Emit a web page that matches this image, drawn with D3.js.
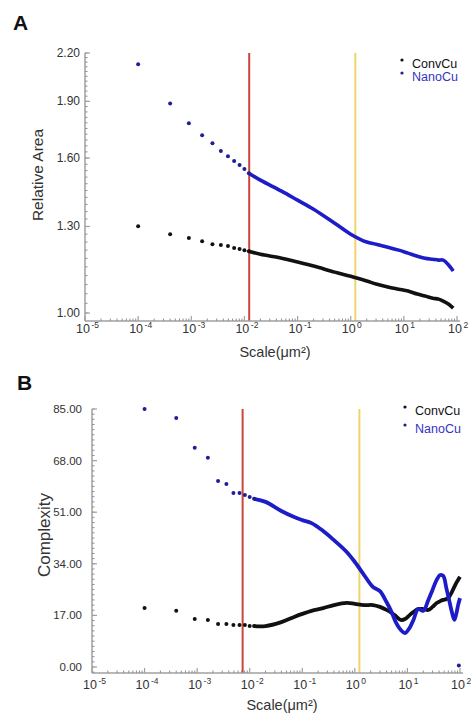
<!DOCTYPE html>
<html>
<head>
<meta charset="utf-8">
<script src="https://cdn.jsdelivr.net/npm/d3@7"></script>
<style>
  body { margin: 0; background: #fff; }
  text { font-family: Arial, "Liberation Sans", sans-serif; }
</style>
</head>
<body>
<svg id="chart" width="471" height="714"></svg>
<script>
// Panel A: Relative Area (log y)
const dotScalesA = [0.0001, 0.0004, 0.0009, 0.0016, 0.0025, 0.0036, 0.0049, 0.0064, 0.0081, 0.0100, 0.0121];
const convDotsA = [1.301, 1.270, 1.255, 1.243, 1.232, 1.229, 1.225, 1.218, 1.214, 1.210, 1.206];
const nanoDotsA = [2.126, 1.888, 1.778, 1.714, 1.673, 1.634, 1.609, 1.585, 1.566, 1.547, 1.528];
const curveScalesA = [0.0121, 0.02, 0.05, 0.1, 0.2, 0.5, 1, 2, 3, 5, 8, 12, 18, 25, 35, 45, 55, 70, 85];
const convCurveA = [1.206, 1.195, 1.181, 1.167, 1.153, 1.132, 1.118, 1.102, 1.092, 1.082, 1.075, 1.069, 1.059, 1.053, 1.046, 1.043, 1.037, 1.027, 1.015];
const nanoCurveA = [1.528, 1.496, 1.447, 1.408, 1.370, 1.313, 1.270, 1.240, 1.232, 1.221, 1.210, 1.199, 1.188, 1.181, 1.177, 1.174, 1.174, 1.156, 1.136];
const yTicksA = [1.00, 1.30, 1.60, 1.90, 2.20];
const markersA = [0.0123, 1.22];

// Panel B: Complexity (linear y)
const dotScalesB = [0.0001, 0.0004, 0.0009, 0.0016, 0.0025, 0.0036, 0.0049, 0.0064, 0.0081, 0.0100, 0.0121];
const convDotsB = [19.4, 18.5, 15.8, 15.5, 14.2, 14.2, 13.8, 13.8, 13.8, 13.5, 13.5];
const nanoDotsB = [85.0, 82.0, 72.2, 68.9, 61.3, 60.3, 57.3, 57.3, 56.7, 56.0, 55.4];
const curveScalesB = [0.0121, 0.02, 0.04, 0.07, 0.1, 0.15, 0.25, 0.4, 0.7, 1.0, 1.5, 2.2, 3, 4, 5, 6, 7.5, 9, 11, 13, 16, 20, 25, 30, 36, 42, 48, 55, 62, 70, 78, 85, 92, 100];
const convCurveB = [13.5, 13.5, 14.8, 16.5, 17.5, 18.5, 19.4, 20.4, 21.1, 20.8, 20.4, 20.4, 19.8, 18.8, 17.8, 16.8, 15.5, 15.8, 17.1, 18.1, 19.1, 19.1, 18.8, 19.8, 21.1, 21.7, 22.1, 22.4, 23.1, 24.7, 26.4, 27.7, 28.7, 29.7];
const nanoCurveB = [55.4, 54.4, 51.4, 49.4, 48.4, 47.4, 44.8, 41.8, 37.9, 34.6, 30.3, 26.4, 25.0, 21.4, 18.1, 14.8, 12.2, 11.2, 12.9, 15.5, 19.1, 18.5, 22.1, 25.4, 28.7, 30.3, 30.0, 26.0, 22.1, 18.1, 15.5, 17.5, 20.4, 22.7];
const nanoOutlierB = [95, 0.5];
const yTicksB = [0, 17, 34, 51, 68, 85];
const markersB = [0.00733, 1.22];

const xDecades = [-5, -4, -3, -2, -1, 0, 1, 2];
const seriesNames = ["ConvCu", "NanoCu"];

const convColor = "#111111";
const nanoDotColor = "#1e1e96";
const nanoLineColor = "#1c1cc8";
const axisColor = "#a0a0a0";
const markerColors = ["#c9453e", "#f0d46a"];

const svg = d3.select("#chart");

function drawPanel(cfg) {
    const x = d3.scaleLog().domain([1e-5, 1e2]).range([cfg.left, cfg.right]);
    const y = cfg.y;
    const g = svg.append("g");

    // vertical marker lines
    cfg.markers.forEach((m, i) => {
        g.append("line")
            .attr("x1", x(m)).attr("x2", x(m))
            .attr("y1", cfg.top).attr("y2", cfg.axisY)
            .attr("stroke", markerColors[i])
            .attr("stroke-width", 2);
    });

    // axis lines
    g.append("line")
        .attr("x1", cfg.left).attr("x2", cfg.left)
        .attr("y1", cfg.top).attr("y2", cfg.axisY)
        .attr("stroke", axisColor).attr("stroke-width", 1.5);
    g.append("line")
        .attr("x1", cfg.left).attr("x2", cfg.right + 3)
        .attr("y1", cfg.axisY).attr("y2", cfg.axisY)
        .attr("stroke", axisColor).attr("stroke-width", 1.5);

    // y minor + major ticks
    g.selectAll(".yminor")
        .data(cfg.yMinor)
        .join("line")
        .attr("x1", cfg.left).attr("x2", cfg.left + 2.5)
        .attr("y1", d => y(d)).attr("y2", d => y(d))
        .attr("stroke", "#909090").attr("stroke-width", 1);
    g.selectAll(".ymajor")
        .data(cfg.yTicks)
        .join("line")
        .attr("x1", cfg.left).attr("x2", cfg.left + 5)
        .attr("y1", d => y(d)).attr("y2", d => y(d))
        .attr("stroke", axisColor).attr("stroke-width", 1.2);
    g.selectAll(".ylabel")
        .data(cfg.yTicks)
        .join("text")
        .attr("x", cfg.labelRight)
        .attr("y", d => y(d) + 4)
        .attr("text-anchor", "end")
        .attr("font-size", cfg.tickFont)
        .attr("fill", "#333")
        .text(d => d.toFixed(2));

    // x minor + major ticks
    let xMinor = [];
    for (const d of xDecades.slice(0, -1)) {
        for (let k = 2; k <= 9; k++) xMinor.push(k * Math.pow(10, d));
    }
    g.selectAll(".xminor")
        .data(xMinor)
        .join("line")
        .attr("x1", d => x(d)).attr("x2", d => x(d))
        .attr("y1", cfg.axisY).attr("y2", cfg.axisY - 2.5)
        .attr("stroke", "#909090").attr("stroke-width", 1);
    g.selectAll(".xmajor")
        .data(xDecades)
        .join("line")
        .attr("x1", d => x(Math.pow(10, d))).attr("x2", d => x(Math.pow(10, d)))
        .attr("y1", cfg.axisY).attr("y2", cfg.axisY - 5)
        .attr("stroke", axisColor).attr("stroke-width", 1.2);
    const xl = g.selectAll(".xlabel")
        .data(xDecades)
        .join("text")
        .attr("x", d => x(Math.pow(10, d)) - 9)
        .attr("y", cfg.axisY + cfg.xLabelOffset)
        .attr("font-size", 12.5)
        .attr("fill", "#333");
    xl.append("tspan").text("10");
    xl.append("tspan")
        .attr("dx", 1.5).attr("dy", -5)
        .attr("font-size", 8.5)
        .text(d => d);

    // axis titles
    g.append("text")
        .attr("x", cfg.xTitleX)
        .attr("y", cfg.xTitleY)
        .attr("text-anchor", "middle")
        .attr("font-size", 14.5)
        .attr("fill", "#333")
        .text("Scale(μm²)");
    g.append("text")
        .attr("transform", `translate(${cfg.yTitleX}, ${cfg.yTitleY}) rotate(-90)`)
        .attr("text-anchor", "middle")
        .attr("font-size", cfg.yTitleFont)
        .attr("fill", "#333")
        .text(cfg.yTitle);

    // panel letter
    g.append("text")
        .attr("x", cfg.letterX)
        .attr("y", cfg.letterY)
        .attr("font-size", 21)
        .attr("font-weight", "bold")
        .attr("fill", "#111")
        .text(cfg.letter);

    // dense data drawn as thick lines
    const line = d3.line()
        .x(d => x(d[0]))
        .y(d => y(d[1]))
        .curve(d3.curveCatmullRom.alpha(0.5));
    g.append("path")
        .datum(d3.zip(cfg.curveScales, cfg.conv))
        .attr("d", line)
        .attr("fill", "none")
        .attr("stroke", convColor)
        .attr("stroke-width", cfg.lineWidth)
        .attr("stroke-linejoin", "round");
    g.append("path")
        .datum(d3.zip(cfg.curveScales, cfg.nano))
        .attr("d", line)
        .attr("fill", "none")
        .attr("stroke", nanoLineColor)
        .attr("stroke-width", cfg.lineWidth)
        .attr("stroke-linejoin", "round");

    // sparse points
    g.selectAll(".cdot")
        .data(d3.zip(cfg.dotScales, cfg.convDots))
        .join("circle")
        .attr("cx", d => x(d[0])).attr("cy", d => y(d[1]))
        .attr("r", 2).attr("fill", convColor);
    g.selectAll(".ndot")
        .data(d3.zip(cfg.dotScales, cfg.nanoDots).concat(cfg.extraNano))
        .join("circle")
        .attr("cx", d => x(d[0])).attr("cy", d => y(d[1]))
        .attr("r", 2).attr("fill", nanoDotColor);

    // legend
    const legendColors = [convColor, "#3434c4"];
    seriesNames.forEach((name, i) => {
        g.append("circle")
            .attr("cx", cfg.legendX)
            .attr("cy", cfg.legendY + i * cfg.legendStep - 8)
            .attr("r", 1.6)
            .attr("fill", i === 0 ? convColor : nanoDotColor);
        g.append("text")
            .attr("x", cfg.legendX + 10)
            .attr("y", cfg.legendY + i * cfg.legendStep)
            .attr("font-size", 12.5)
            .attr("fill", legendColors[i])
            .text(name);
    });
}

drawPanel({
    letter: "A", letterX: 13, letterY: 30,
    left: 85, right: 457, top: 53, axisY: 321,
    y: d3.scaleLog().domain([1, 2.2]).range([313, 53]),
    yTicks: yTicksA,
    yMinor: d3.range(1.0, 2.2001, 0.03),
    labelRight: 80, tickFont: 12, xLabelOffset: 12,
    xTitleX: 275, xTitleY: 357,
    yTitle: "Relative Area", yTitleX: 43, yTitleY: 175, yTitleFont: 15.5,
    markers: markersA,
    dotScales: dotScalesA, convDots: convDotsA, nanoDots: nanoDotsA, extraNano: [],
    curveScales: curveScalesA, conv: convCurveA, nano: nanoCurveA,
    lineWidth: 3.6,
    legendX: 402, legendY: 68, legendStep: 13
});

drawPanel({
    letter: "B", letterX: 17, letterY: 390,
    left: 92, right: 460, top: 409, axisY: 673,
    y: d3.scaleLinear().domain([0, 85]).range([667, 409]),
    yTicks: yTicksB,
    yMinor: d3.range(-1.7, 85.01, 1.7),
    labelRight: 82, tickFont: 11.5, xLabelOffset: 16,
    xTitleX: 282, xTitleY: 710,
    yTitle: "Complexity", yTitleX: 50, yTitleY: 535, yTitleFont: 17,
    markers: markersB,
    dotScales: dotScalesB, convDots: convDotsB, nanoDots: nanoDotsB, extraNano: [nanoOutlierB],
    curveScales: curveScalesB, conv: convCurveB, nano: nanoCurveB,
    lineWidth: 3.8,
    legendX: 405, legendY: 415, legendStep: 18
});
</script>
</body>
</html>
